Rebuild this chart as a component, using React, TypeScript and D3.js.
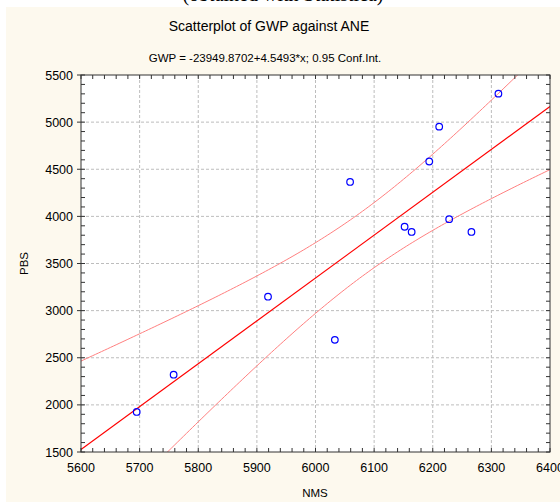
import React from "react";
import * as d3 from "d3";

// values
const nms = [5695, 5758, 5919, 6033, 6059, 6152, 6164, 6194, 6211, 6228, 6266, 6312];
const pbs = [1925, 2320, 3148, 2690, 4365, 3890, 3835, 4582, 4952, 3970, 3835, 5302];

const xTicks = [5600, 5700, 5800, 5900, 6000, 6100, 6200, 6300, 6400];
const yTicks = [1500, 2000, 2500, 3000, 3500, 4000, 4500, 5000, 5500];

// fit from the subtitle text
const intercept = -23949.8702;
const slope = 4.5493;
const tCrit = 2.228; // t(0.975, 10)

const W = 560;
const H = 502;
const plot = { left: 81, top: 75, right: 550, bottom: 452 };
const font = "Liberation Sans, Arial, sans-serif";

const App = () => {
  const x = d3.scaleLinear().domain([5600, 6400]).range([plot.left, plot.right]);
  const y = d3.scaleLinear().domain([1500, 5500]).range([plot.bottom, plot.top]);

  // confidence band for the regression line
  const n = nms.length;
  const xbar = d3.mean(nms) as number;
  const sxx = d3.sum(nms, (v) => (v - xbar) ** 2);
  const sse = d3.sum(nms, (v, i) => (pbs[i] - (intercept + slope * v)) ** 2);
  const s = Math.sqrt(sse / (n - 2));
  const xs = d3.range(5600, 6401, 5);
  const half = (v: number) => tCrit * s * Math.sqrt(1 / n + (v - xbar) ** 2 / sxx);

  const line = d3
    .line<number>()
    .x((v) => x(v))
    .y((v) => y(intercept + slope * v));
  const upper = d3
    .line<number>()
    .x((v) => x(v))
    .y((v) => y(intercept + slope * v + half(v)));
  const lower = d3
    .line<number>()
    .x((v) => x(v))
    .y((v) => y(intercept + slope * v - half(v)));

  const xMinor = d3.range(5600, 6401, 20);
  const yMinor = d3.range(1500, 5501, 100);

  return (
    <div style={{ position: "absolute", left: 0, top: 0 }}>
      <svg width={W} height={H} style={{ display: "block", background: "#ffffff" }}>
        <defs>
          <clipPath id="plotClip">
            <rect
              x={plot.left}
              y={plot.top}
              width={plot.right - plot.left}
              height={plot.bottom - plot.top}
            />
          </clipPath>
        </defs>
        <rect x={6} y={7} width={W - 6} height={H - 7} fill="#fdf9ee" />
        <text
          x={283}
          y={1}
          textAnchor="middle"
          fontFamily="Liberation Serif, Times New Roman, serif"
          fontSize={20}
          fill="#000"
        >
          (obtained with Statistica)
        </text>

        <text x={269} y={31} textAnchor="middle" fontFamily={font} fontSize={14} fill="#000">
          Scatterplot of GWP against ANE
        </text>
        <text x={265} y={62} textAnchor="middle" fontFamily={font} fontSize={11.5} fill="#000">
          GWP = -23949.8702+4.5493*x; 0.95 Conf.Int.
        </text>

        <rect
          x={plot.left}
          y={plot.top}
          width={plot.right - plot.left}
          height={plot.bottom - plot.top}
          fill="#ffffff"
        />

        {/* grid */}
        {xTicks.slice(1, -1).map((t) => (
          <line
            key={"gx" + t}
            x1={x(t)}
            x2={x(t)}
            y1={plot.top}
            y2={plot.bottom}
            stroke="#bdbdbd"
            strokeDasharray="3,2"
          />
        ))}
        {yTicks.slice(1, -1).map((t) => (
          <line
            key={"gy" + t}
            x1={plot.left}
            x2={plot.right}
            y1={y(t)}
            y2={y(t)}
            stroke="#bdbdbd"
            strokeDasharray="3,2"
          />
        ))}

        <g clipPath="url(#plotClip)" fill="none">
          <path d={upper(xs) || ""} stroke="#ff8080" strokeWidth={1} />
          <path d={lower(xs) || ""} stroke="#ff8080" strokeWidth={1} />
          <path d={line([5600, 6400]) || ""} stroke="#ff0000" strokeWidth={1.1} />
        </g>

        {nms.map((v, i) => (
          <circle
            key={"p" + i}
            cx={x(v)}
            cy={y(pbs[i])}
            r={3.3}
            fill="none"
            stroke="#0000ff"
            strokeWidth={1.2}
          />
        ))}

        {/* ticks */}
        <g stroke="#333" strokeWidth={1}>
          {xMinor.map((t) => (
            <g key={"tx" + t}>
              <line x1={x(t)} x2={x(t)} y1={plot.bottom} y2={plot.bottom - 4} />
              <line x1={x(t)} x2={x(t)} y1={plot.top} y2={plot.top + 4} />
            </g>
          ))}
          {yMinor.map((t) => (
            <g key={"ty" + t}>
              <line x1={plot.left} x2={plot.left + 4} y1={y(t)} y2={y(t)} />
              <line x1={plot.right} x2={plot.right - 4} y1={y(t)} y2={y(t)} />
            </g>
          ))}
          {yTicks.map((t) => (
            <line key={"my" + t} x1={plot.left - 4} x2={plot.left} y1={y(t)} y2={y(t)} />
          ))}
        </g>
        <rect
          x={plot.left}
          y={plot.top}
          width={plot.right - plot.left}
          height={plot.bottom - plot.top}
          fill="none"
          stroke="#333"
          strokeWidth={1}
        />

        {xTicks.map((t) => (
          <text
            key={"lx" + t}
            x={x(t)}
            y={472}
            textAnchor="middle"
            fontFamily={font}
            fontSize={12.5}
            fill="#000"
          >
            {t}
          </text>
        ))}
        {yTicks.map((t) => (
          <text
            key={"ly" + t}
            x={73}
            y={y(t) + 4.5}
            textAnchor="end"
            fontFamily={font}
            fontSize={12.5}
            fill="#000"
          >
            {t}
          </text>
        ))}

        <text x={315} y={497} textAnchor="middle" fontFamily={font} fontSize={11.5} fill="#000">
          NMS
        </text>
        <text
          transform={`translate(28,${(plot.top + plot.bottom) / 2}) rotate(-90)`}
          textAnchor="middle"
          fontFamily={font}
          fontSize={11.5}
          fill="#000"
        >
          PBS
        </text>
      </svg>
    </div>
  );
};

export default App;
